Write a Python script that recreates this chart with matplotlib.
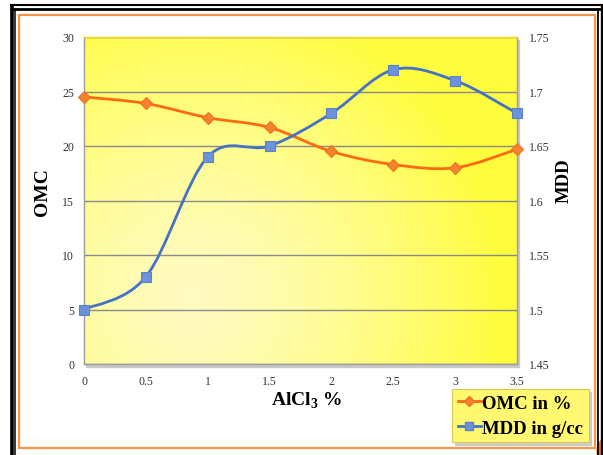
import numpy as np
import matplotlib
matplotlib.use("Agg")
import matplotlib.pyplot as plt
from matplotlib.path import Path
from matplotlib.patches import PathPatch, Rectangle, Ellipse
from matplotlib.lines import Line2D

# AlCl3 content (%) and the two compaction results
alcl3 = [0, 0.5, 1, 1.5, 2, 2.5, 3, 3.5]
omc = [24.5, 23.9, 22.6, 21.7, 19.5, 18.3, 18.0, 19.7]
mdd = [1.50, 1.53, 1.64, 1.65, 1.68, 1.72, 1.71, 1.68]

x_ticks = [0, 0.5, 1, 1.5, 2, 2.5, 3, 3.5]
omc_ticks = [0, 5, 10, 15, 20, 25, 30]
mdd_ticks = [1.45, 1.5, 1.55, 1.6, 1.65, 1.7, 1.75]
mdd_labels = ["1.45", "1.5", "1.55", "1.6", "1.65", "1.7", "1.75"]

plt.rcParams['font.family'] = ['Liberation Serif', 'DejaVu Serif']
plt.rcParams['mathtext.fontset'] = 'custom'
plt.rcParams['mathtext.rm'] = 'Liberation Serif'
plt.rcParams['mathtext.bf'] = 'Liberation Serif:bold'

W, H = 603, 456


def fx(x):
    return x / W


def fy(y):
    return 1 - y / H


def smooth_path(xs, ys):
    # cubic bezier through every point (catmull-rom style tangents)
    pts = np.column_stack([xs, ys]).astype(float)
    n = len(pts)
    verts = [pts[0]]
    codes = [Path.MOVETO]
    for i in range(n - 1):
        p0 = pts[max(i - 1, 0)]
        p1 = pts[i]
        p2 = pts[i + 1]
        p3 = pts[min(i + 2, n - 1)]
        verts += [p1 + (p2 - p0) / 6, p2 - (p3 - p1) / 6, p2]
        codes += [Path.CURVE4] * 3
    return Path(verts, codes)


fig = plt.figure(figsize=(W / 100, H / 100), dpi=100)
fig.patch.set_facecolor('white')

# page frame: black double rule and orange box
black = dict(color='black', transform=fig.transFigure, solid_capstyle='butt')
fig.add_artist(Line2D([fx(10), fx(603)], [fy(5.8), fy(5.8)], lw=1.5, **black))
fig.add_artist(Line2D([fx(10), fx(603)], [fy(10.3), fy(10.3)], lw=2.0, **black))
fig.add_artist(Line2D([fx(11.6), fx(11.6)], [fy(5), fy(456)], lw=2.6, **black))
fig.add_artist(Line2D([fx(15.2), fx(15.2)], [fy(10), fy(456)], lw=1.1, **black))
fig.add_artist(Line2D([fx(597.6), fx(597.6)], [fy(10), fy(456)], lw=1.3, **black))
fig.add_artist(Line2D([fx(601.6), fx(601.6)], [fy(5), fy(456)], lw=2.4, **black))
fig.add_artist(Rectangle((fx(18.5), fy(449)), fx(594.5) - fx(18.5), fy(15.8) - fy(449),
                         transform=fig.transFigure, fill=False, ec='#F79646', lw=1.6))
fig.add_artist(Ellipse((fx(612), fy(452)), 30 / W, 30 / H, transform=fig.transFigure,
                       color='#F07A28'))

left, right, top, bottom = 84, 517, 38, 365
ax = fig.add_axes([fx(left), fy(bottom), fx(right) - fx(left), fy(top) - fy(bottom)])

# drop shadow behind the plot area
fig.add_artist(Rectangle((fx(left + 2), fy(bottom + 3)), fx(right) - fx(left), fy(top) - fy(bottom),
                         transform=fig.transFigure, color='#c9c9c9', zorder=-1))

# yellow radial fill of the plot area
u = np.linspace(0, 1, 300)
v = np.linspace(0, 1, 240)
U, V = np.meshgrid(u, v)
d = np.sqrt(((U - 0.25) * (right - left)) ** 2 + ((V - 0.2) * (bottom - top)) ** 2) / (right - left)
t = np.clip(d / 0.72, 0, 1) ** 1.4
pale = np.array([1.0, 0.988, 0.76])
bright = np.array([1.0, 0.99, 0.24])
img = pale[None, None, :] * (1 - t[..., None]) + bright[None, None, :] * t[..., None]
ax.imshow(img, extent=[0, 1, 0, 1], transform=ax.transAxes, origin='lower',
          aspect='auto', zorder=-1, interpolation='bilinear')

ax.set_xlim(0, 3.5)
ax.set_ylim(0, 30)
ax.set_xticks(x_ticks)
ax.set_xticklabels([f"{x:g}" for x in x_ticks])
ax.set_yticks(omc_ticks)
ax.yaxis.grid(True, color='#8a8a8a', lw=1.0)
ax.set_axisbelow(True)
ax.tick_params(axis='both', length=0, labelsize=8.5, labelcolor='#333333')
ax.tick_params(axis='x', pad=8)
ax.tick_params(axis='y', pad=7)
for side in ['left', 'bottom', 'right']:
    ax.spines[side].set_color('#9c9c9c')
    ax.spines[side].set_linewidth(1.0)
ax.spines['top'].set_color('#F2D21E')
ax.spines['top'].set_linewidth(1.0)

ax2 = ax.twinx()
ax2.set_ylim(1.45, 1.75)
ax2.set_yticks(mdd_ticks)
ax2.set_yticklabels(mdd_labels)
ax2.tick_params(axis='y', length=0, labelsize=8.5, labelcolor='#333333', pad=8.5)
for s in ax2.spines.values():
    s.set_visible(False)

orange = '#FF6A10'
blue = '#4472C4'

ax.add_patch(PathPatch(smooth_path(alcl3, omc), fill=False, ec=orange, lw=2.0,
                       capstyle='round', joinstyle='round', zorder=3))
ax.plot(alcl3, omc, ls='none', marker='D', ms=6, mfc='#F5822F', mec='#F07020',
        mew=0.8, zorder=4, clip_on=False)

ax2.add_patch(PathPatch(smooth_path(alcl3, mdd), fill=False, ec=blue, lw=2.0,
                        capstyle='round', joinstyle='round', zorder=3))
ax2.plot(alcl3, mdd, ls='none', marker='s', ms=7, mfc='#6E92D8', mec='#5B80CC',
         mew=0.8, zorder=4, clip_on=False)

fig.text(fx(43), fy(192), 'OMC', rotation=90, ha='center', va='center',
         fontsize=14, fontweight='bold')
fig.text(fx(564), fy(181), 'MDD', rotation=90, ha='center', va='center',
         fontsize=13.5, fontweight='bold')
fig.text(fx(307), fy(401), r'AlCl$_{\mathbf{3}}$ %', ha='center', va='center',
         fontsize=14, fontweight='bold')

handles = [
    Line2D([], [], color=orange, lw=2.0, marker='D', ms=5, mfc='#F5822F', mec='#F07020'),
    Line2D([], [], color=blue, lw=2.0, marker='s', ms=6, mfc='#6E92D8', mec='#5B80CC'),
]
leg = fig.legend(handles, ['OMC in %', 'MDD in g/cc'], loc='upper left',
                 bbox_to_anchor=(fx(452), fy(390)), borderaxespad=0,
                 prop={'size': 13.5, 'weight': 'bold'}, frameon=True, fancybox=False,
                 facecolor='#FFF870', edgecolor='#D8C850', framealpha=1,
                 handlelength=1.25, handletextpad=0.05, borderpad=0.3,
                 labelspacing=0.42, shadow={'color': '#bbbbbb', 'alpha': 0.7})
leg.get_frame().set_linewidth(0.8)

fig.savefig('out.png', dpi=100)
